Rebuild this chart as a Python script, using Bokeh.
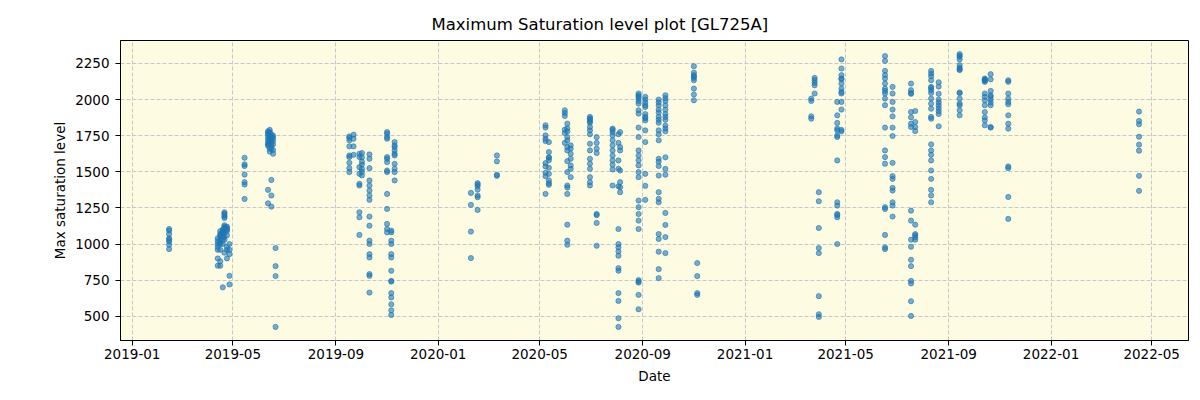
import pandas as pd
from bokeh.plotting import figure
from bokeh.models import ColumnDataSource, Range1d, FixedTicker, DatetimeTickFormatter
from bokeh.embed import file_html
from bokeh.resources import INLINE

# ---------------- data ----------------
nights_2019 = ["2019-02-14", "2019-04-13", "2019-04-16", "2019-04-19", "2019-04-21",
               "2019-04-24", "2019-04-27", "2019-05-15", "2019-06-12", "2019-06-14",
               "2019-06-16", "2019-06-18", "2019-06-21", "2019-09-17", "2019-09-22",
               "2019-09-29", "2019-10-02", "2019-10-11", "2019-11-01", "2019-11-06",
               "2019-11-10"]
levels_2019 = [
    [1104, 1093, 1069, 1040, 1030, 1018, 995, 965],
    [1040, 1020, 1000, 980, 960, 900, 850],
    [1090, 1070, 1060, 1050, 1030, 1010, 1000, 960, 880, 850],
    [1100, 1090, 1080, 1070, 1050, 1030, 1000, 700],
    [1220, 1210, 1200, 1190, 1180, 1130, 1120, 1110, 1100, 1080, 1050, 1030, 940],
    [1120, 1110, 1100, 1090, 1060, 980, 960, 900],
    [1000, 960, 930, 780, 720],
    [1597, 1551, 1540, 1481, 1428, 1412, 1312],
    [1780, 1770, 1760, 1740, 1720, 1700, 1690, 1680, 1375, 1282],
    [1790, 1775, 1750, 1730, 1720, 1710, 1700, 1660, 1640],
    [1760, 1740, 1720, 1700, 1680, 1660, 1444, 1336, 1259],
    [1750, 1735, 1715, 1690, 1650, 1625],
    [972, 847, 778, 426],
    [1745, 1734, 1718, 1676, 1613, 1602, 1562, 1525, 1498],
    [1757, 1729, 1676, 1618],
    [1625, 1602, 1532, 1486, 1417, 1405, 1220, 1185, 1063],
    [1630, 1600, 1570, 1550, 1520, 1500, 1475],
    [1620, 1590, 1525, 1440, 1405, 1370, 1336, 1306, 1190, 1127, 1023, 1000, 930, 907,
     792, 780, 664],
    [1775, 1764, 1741, 1729, 1602, 1590, 1567, 1509, 1498, 1347, 1243, 1139, 1104, 1081],
    [1093, 1081, 1023, 1000, 930, 907, 815, 745, 740, 660, 630, 583, 541, 509],
    [1706, 1683, 1671, 1648, 1625, 1613, 1555, 1521, 1498, 1440],
]

nights_2020 = ["2020-02-09", "2020-02-17", "2020-03-11", "2020-05-08", "2020-05-12",
               "2020-05-31", "2020-06-03", "2020-06-07", "2020-06-30", "2020-07-08",
               "2020-07-27", "2020-08-03", "2020-08-05", "2020-08-27", "2020-09-04",
               "2020-09-20", "2020-09-28", "2020-11-01", "2020-11-05"]
levels_2020 = [
    [1354, 1271, 1086, 903],
    [1421, 1412, 1400, 1377, 1336, 1324, 1236],
    [1613, 1572, 1479, 1472],
    [1822, 1806, 1752, 1729, 1713, 1560, 1537, 1493, 1470, 1347],
    [1706, 1637, 1600, 1597, 1580, 1528, 1486, 1440, 1421, 1410],
    [1926, 1907, 1887, 1792, 1768, 1700],
    [1833, 1800, 1780, 1741, 1718, 1671, 1648, 1574, 1498, 1405, 1391, 1347, 1134, 1023, 995],
    [1683, 1660, 1625, 1590, 1544, 1521, 1463],
    [1880, 1870, 1860, 1850, 1840, 1810, 1787, 1760, 1694, 1648, 1590, 1556, 1521, 1463,
     1428, 1405],
    [1740, 1700, 1660, 1630, 1208, 1200, 1146, 988],
    [1799, 1790, 1775, 1752, 1718, 1683, 1648, 1613, 1579, 1549, 1516, 1405],
    [1760, 1700, 1579, 1521, 1400, 1104, 1000, 977, 949, 919, 833, 815, 660, 606, 486, 426],
    [1775, 1671, 1648, 1509, 1428, 1393, 1359],
    [2042, 2030, 2020, 2007, 1990, 1972, 1926, 1903, 1806, 1741, 1648, 1613, 1579, 1544,
     1498, 1463, 1301, 1255, 1208, 1162, 1104, 750, 740, 733, 648, 548],
    [2019, 2000, 1980, 1960, 1949, 1900, 1880, 1870, 1856, 1787, 1706, 1486, 1403, 1306],
    [2000, 1980, 1960, 1930, 1910, 1880, 1860, 1840, 1787, 1760, 1718, 1590, 1570, 1540,
     1474, 1359, 1313, 1289, 1069, 1035, 947, 826, 764],
    [2030, 2010, 1990, 1960, 1930, 1900, 1880, 1860, 1820, 1800, 1780, 1600, 1520, 1480,
     1215, 1132, 1048, 937],
    [2231, 2187, 2169, 2160, 2150, 2134, 2076, 2035, 1995],
    [868, 778, 660, 648],
]

nights_2021 = ["2021-03-21", "2021-03-25", "2021-03-30", "2021-04-21", "2021-04-26",
               "2021-06-17", "2021-06-26", "2021-07-18", "2021-07-23", "2021-08-11",
               "2021-08-20", "2021-09-14", "2021-10-14", "2021-10-21", "2021-11-11"]
levels_2021 = [
    [2007, 1991, 1884, 1868],
    [2150, 2134, 2116, 2099, 2042],
    [1359, 1296, 1111, 972, 937, 639, 514, 495],
    [1984, 1891, 1838, 1799, 1787, 1752, 1741, 1579, 1289, 1266, 1208, 1200, 1185, 1000],
    [2278, 2215, 2169, 2146, 2140, 2111, 2076, 2053, 2042, 1984, 1931, 1790, 1780],
    [2301, 2268, 2199, 2170, 2146, 2111, 2076, 2060, 2042, 2007, 1961, 1806, 1648, 1602,
     1556, 1255, 1243, 1063, 977, 965],
    [2088, 2042, 1984, 1931, 1884, 1806, 1748, 1562, 1470, 1451, 1389, 1370, 1289, 1266, 1190],
    [2111, 2065, 2046, 2040, 1914, 1877, 1833, 1810, 1231, 1162, 1030, 981, 891, 847, 745,
     727, 604, 502],
    [1921, 1845, 1810, 1782, 1134, 1069, 1060, 1046, 1030],
    [2199, 2180, 2162, 2134, 2088, 2080, 2065, 2046, 2007, 1972, 1937, 1880, 1868, 1690,
     1648, 1618, 1579, 1509, 1451, 1375, 1336, 1289],
    [2120, 2090, 2040, 2000, 1980, 1960, 1940, 1920, 1900, 1815],
    [2315, 2305, 2296, 2278, 2238, 2220, 2210, 2204, 2049, 2045, 2007, 1972, 1961, 1926, 1891],
    [2146, 2140, 2135, 2130, 2123, 2042, 2019, 1995, 1961, 1914, 1877, 1856, 1822],
    [2176, 2140, 2060, 2030, 2019, 2000, 1980, 1961, 1810, 1806],
    [2134, 2123, 2042, 2007, 1984, 1968, 1891, 1833, 1799, 1537, 1525, 1326, 1174],
]

nights_2022 = ["2022-04-16"]
levels_2022 = [
    [1917, 1852, 1829, 1743, 1688, 1646, 1472, 1368],
]

x_ticks = ["2019-01-01", "2019-05-01", "2019-09-01", "2020-01-01", "2020-05-01",
           "2020-09-01", "2021-01-01", "2021-05-01", "2021-09-01", "2022-01-01",
           "2022-05-01"]
y_ticks = [500, 750, 1000, 1250, 1500, 1750, 2000, 2250]

# ---------------- build columns ----------------
xs, ys = [], []
for nights, levels in [(nights_2019, levels_2019), (nights_2020, levels_2020),
                       (nights_2021, levels_2021), (nights_2022, levels_2022)]:
    for d, vals in zip(nights, levels):
        for v in vals:
            xs.append(pd.Timestamp(d))
            ys.append(v)
src = ColumnDataSource(dict(date=xs, level=ys))

FONT = "DejaVu Sans"

p = figure(width=1200, height=400, x_axis_type="datetime",
           output_backend="svg", toolbar_location=None,
           x_range=Range1d(pd.Timestamp("2018-12-18"), pd.Timestamp("2022-06-14")),
           y_range=Range1d(332, 2409),
           min_border_left=120, min_border_right=12, min_border_top=40,
           min_border_bottom=60)

p.title.text = "Maximum Saturation level plot [GL725A]"
p.title.text_font = FONT
p.title.text_font_size = "16.5px"
p.title.text_font_style = "normal"
p.title.text_color = "black"
p.title.align = "left"
p.title.offset = 311
p.title.standoff = 14

p.background_fill_color = "#FDFCE3"
p.border_fill_color = "white"
p.outline_line_color = "black"
p.outline_line_width = 1

p.scatter("date", "level", source=src, size=5.2, marker="circle",
          fill_color="#1f77b4", line_color="#1f77b4", fill_alpha=0.6, line_alpha=0.6)

p.xaxis.ticker = FixedTicker(ticks=[pd.Timestamp(t).value // 10**6 for t in x_ticks])
fmt = "%Y-%m"
p.xaxis.formatter = DatetimeTickFormatter(years=fmt, months=fmt, days=fmt, hours=fmt,
                                          minutes=fmt, seconds=fmt, milliseconds=fmt,
                                          microseconds=fmt, minsec=fmt, hourmin=fmt)
p.yaxis.ticker = FixedTicker(ticks=y_ticks)

for ax in (p.xaxis[0], p.yaxis[0]):
    ax.major_label_text_font = FONT
    ax.major_label_text_font_size = "13.5px"
    ax.major_label_text_color = "black"
    ax.axis_label_text_font = FONT
    ax.axis_label_text_font_size = "13.5px"
    ax.axis_label_text_font_style = "normal"
    ax.axis_label_text_color = "black"
    ax.major_tick_out = 5
    ax.major_tick_in = 0
    ax.minor_tick_out = 0
    ax.minor_tick_in = 0
    ax.axis_line_color = "black"
    ax.major_tick_line_color = "black"

p.xaxis.axis_label = "Date"
p.yaxis.axis_label = "Max saturation level"
p.xaxis.major_label_standoff = 3
p.yaxis.major_label_standoff = 6
p.xaxis.axis_label_standoff = 6
p.yaxis.axis_label_standoff = 4

for g in (p.xgrid[0], p.ygrid[0]):
    g.grid_line_color = "#c8c8c8"
    g.grid_line_dash = "4 2"
    g.grid_line_width = 1

open("out.html", "w").write(file_html(p, INLINE))
